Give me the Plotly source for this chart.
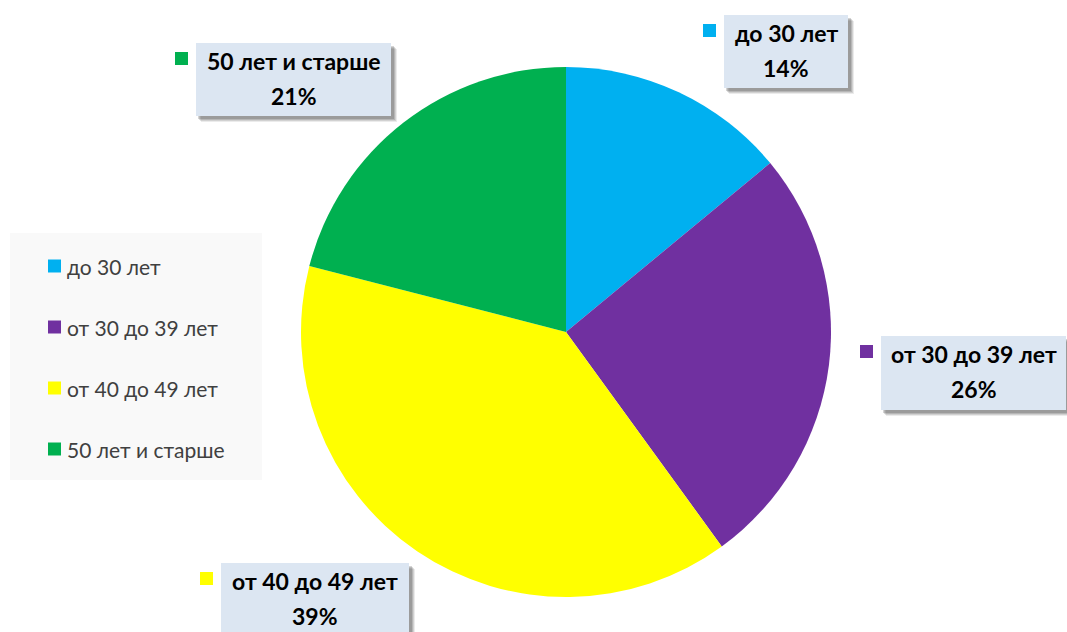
import plotly.graph_objects as go

categories = ["до 30 лет", "от 30 до 39 лет", "от 40 до 49 лет", "50 лет и старше"]
values = [14, 26, 39, 21]
colors = ["#00B0F0", "#7030A0", "#FFFF00", "#00B050"]

W, H = 1067, 632
FONT = "Lato"

def px(x):
    return x / W

def py(y):
    return 1 - y / H

fig = go.Figure(go.Pie(
    labels=categories, values=values, sort=False, direction="clockwise",
    rotation=0, marker=dict(colors=colors, line=dict(width=0)),
    textinfo="none", hoverinfo="label+percent", showlegend=False,
    domain=dict(x=[px(301), px(831)], y=[py(597), py(67)]),
))

shapes = []
annotations = []

# data label boxes: (box x0, y0, x1, y1)
boxes = [(724, 15, 848, 88), (881, 336, 1066, 410), (221, 563, 409, 640), (196, 43, 391, 116)]
total = sum(values)
for i, (cat, val) in enumerate(zip(categories, values)):
    x0, y0, x1, y1 = boxes[i]
    for k, op in [(6, 0.10), (5, 0.14), (4, 0.18), (3, 0.22)]:
        shapes.append(dict(type="rect", xref="paper", yref="paper",
                           x0=px(x0 + k - 1), x1=px(x1 + k), y0=py(y0 + k), y1=py(y1 + k),
                           fillcolor="rgba(60,60,60,%.2f)" % op, line=dict(width=0)))
    shapes.append(dict(type="rect", xref="paper", yref="paper",
                       x0=px(x0), x1=px(x1), y0=py(y0), y1=py(y1),
                       fillcolor="#DCE6F2", line=dict(width=0)))
    shapes.append(dict(type="rect", xref="paper", yref="paper",
                       x0=px(x0 - 21), x1=px(x0 - 8), y0=py(y0 + 9), y1=py(y0 + 22),
                       fillcolor=colors[i], line=dict(width=0)))
    cx = (x0 + x1) / 2
    pct = round(100 * val / total)
    annotations.append(dict(xref="paper", yref="paper", x=px(cx), y=py(y0 + 18),
                            text="<b>%s</b>" % cat, showarrow=False,
                            font=dict(family=FONT, size=23, color="#000000"),
                            xanchor="center", yanchor="middle"))
    annotations.append(dict(xref="paper", yref="paper", x=px(cx), y=py(y0 + 53),
                            text="<b>%d%%</b>" % pct, showarrow=False,
                            font=dict(family=FONT, size=23, color="#000000"),
                            xanchor="center", yanchor="middle"))

# legend
shapes.append(dict(type="rect", xref="paper", yref="paper",
                   x0=px(10), x1=px(262), y0=py(233), y1=py(480),
                   fillcolor="#F9F9F9", line=dict(width=0), layer="below"))
leg_y = [266, 327, 388, 449]
for i, cat in enumerate(categories):
    yc = leg_y[i]
    shapes.append(dict(type="rect", xref="paper", yref="paper",
                       x0=px(48), x1=px(61), y0=py(yc - 6.5), y1=py(yc + 6.5),
                       fillcolor=colors[i], line=dict(width=0)))
    annotations.append(dict(xref="paper", yref="paper", x=px(65), y=py(yc),
                            text=cat, showarrow=False,
                            font=dict(family=FONT, size=21, color="#404040"),
                            xanchor="left", yanchor="middle"))

fig.update_layout(
    width=W, height=H, margin=dict(l=0, r=0, t=0, b=0),
    paper_bgcolor="#FFFFFF", plot_bgcolor="#FFFFFF",
    shapes=shapes, annotations=annotations, showlegend=False,
)

fig.write_html("out.html", config={"displayModeBar": False},
               post_script="document.body.style.margin='0';")
